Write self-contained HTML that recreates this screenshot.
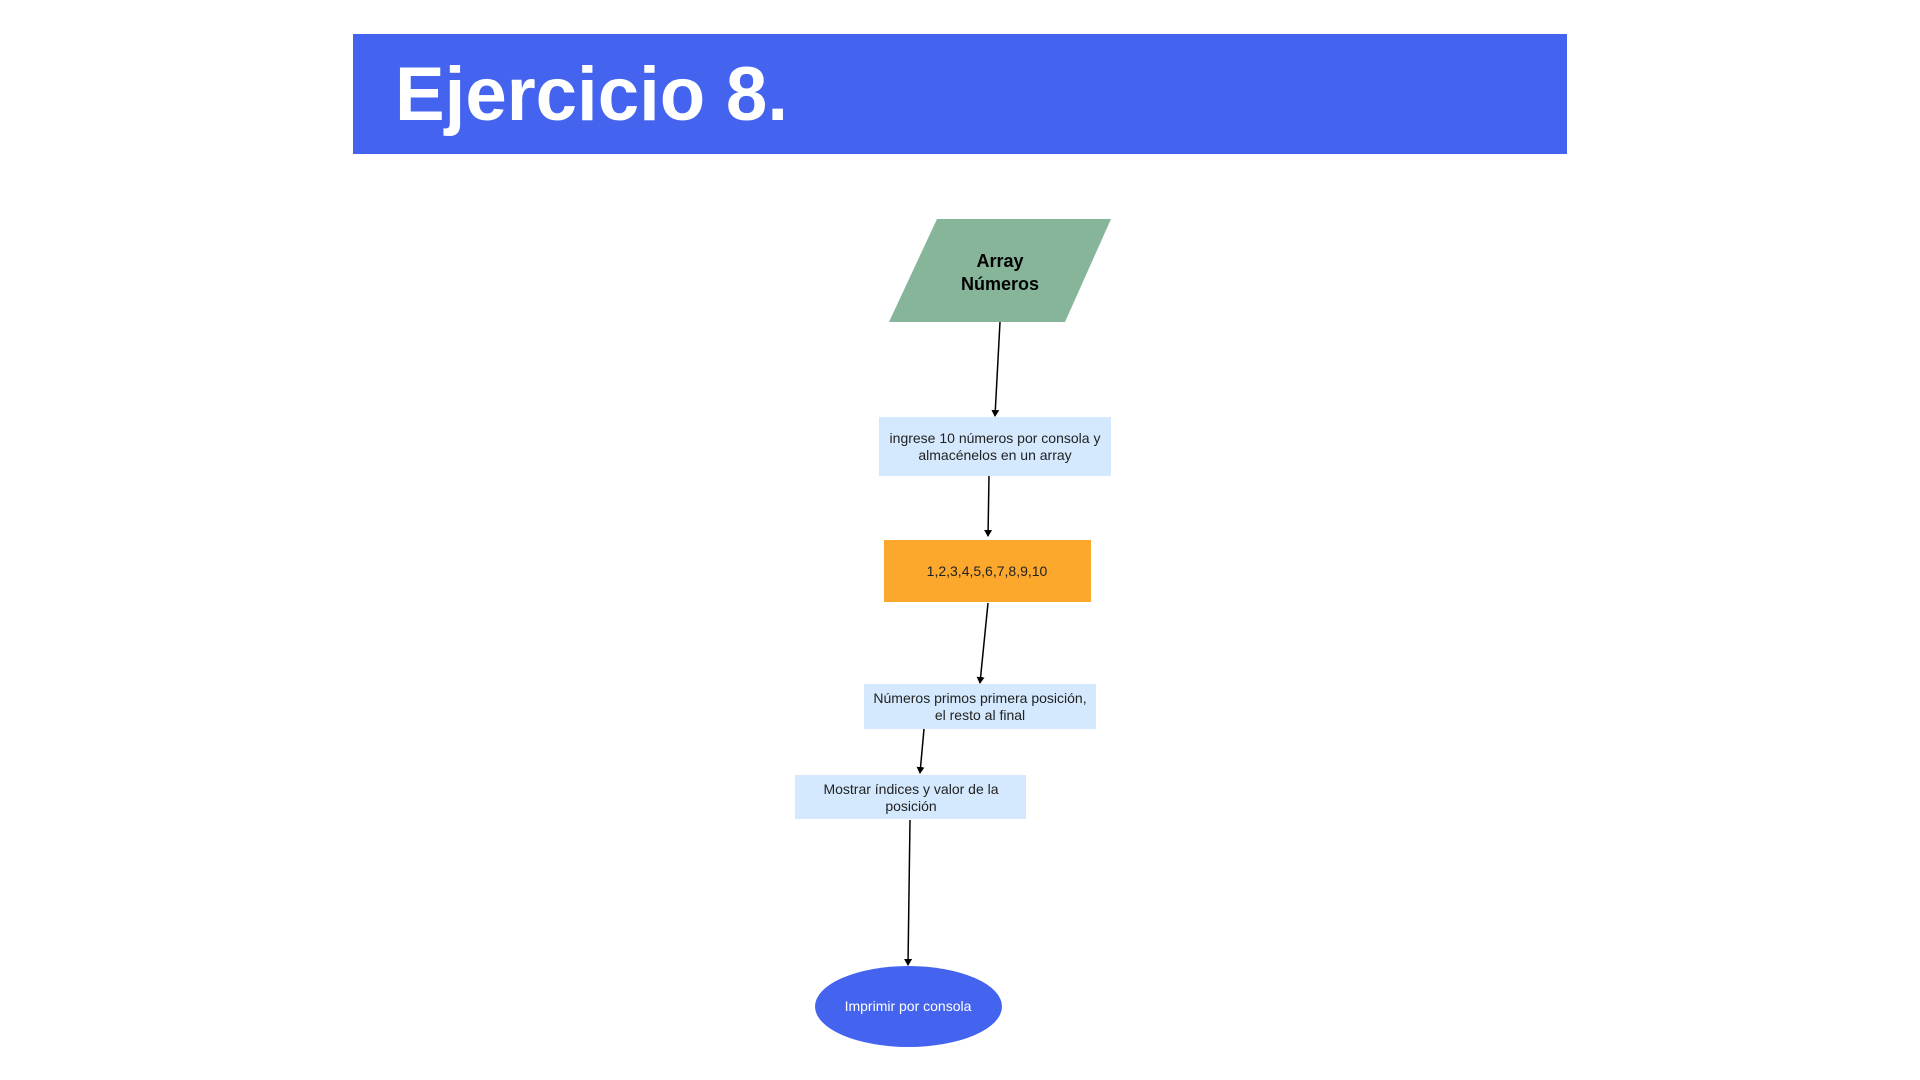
<!DOCTYPE html>
<html><head><meta charset="utf-8"><style>html,body{margin:0;padding:0;background:#fff;width:1920px;height:1080px;overflow:hidden}</style></head>
<body>
<svg width="1920" height="1080" xmlns="http://www.w3.org/2000/svg" font-family="Liberation Sans, sans-serif">
<defs><marker id="a" markerWidth="8" markerHeight="8" refX="6" refY="4" orient="auto" markerUnits="userSpaceOnUse"><path d="M0,0 L7,4 L0,8 z" fill="#000"/></marker></defs>
<rect x="353" y="34" width="1214" height="120" fill="#4464F0"/>
<text x="395" y="120" font-size="76" font-weight="bold" fill="#fff" textLength="393" lengthAdjust="spacingAndGlyphs">Ejercicio 8.</text>
<polygon points="937,219 1111,219 1065,322 889,322" fill="#86B59A"/>
<text x="1000" y="267" font-size="18" font-weight="bold" text-anchor="middle">Array</text>
<text x="1000" y="290" font-size="18" font-weight="bold" text-anchor="middle">Números</text>
<line x1="1000" y1="322" x2="995" y2="416" stroke="#000" stroke-width="1.5" marker-end="url(#a)"/>
<rect x="879" y="417" width="232" height="59" fill="#D4E9FD"/>
<text x="995" y="443" font-size="14" text-anchor="middle" fill="#222">ingrese 10 números por consola y</text>
<text x="995" y="460" font-size="14" text-anchor="middle" fill="#222">almacénelos en un array</text>
<line x1="989" y1="476" x2="988" y2="536" stroke="#000" stroke-width="1.5" marker-end="url(#a)"/>
<rect x="884" y="540" width="207" height="62" fill="#FCA82C"/>
<text x="987" y="576" font-size="14" text-anchor="middle" fill="#222">1,2,3,4,5,6,7,8,9,10</text>
<line x1="988" y1="603" x2="980" y2="683" stroke="#000" stroke-width="1.5" marker-end="url(#a)"/>
<rect x="864" y="684" width="232" height="45" fill="#D4E9FD"/>
<text x="980" y="703" font-size="14" text-anchor="middle" fill="#222">Números primos primera posición,</text>
<text x="980" y="720" font-size="14" text-anchor="middle" fill="#222">el resto al final</text>
<line x1="924" y1="729" x2="920" y2="773" stroke="#000" stroke-width="1.5" marker-end="url(#a)"/>
<rect x="795" y="775" width="231" height="44" fill="#D4E9FD"/>
<text x="911" y="794" font-size="14" text-anchor="middle" fill="#222">Mostrar índices y valor de la</text>
<text x="911" y="811" font-size="14" text-anchor="middle" fill="#222">posición</text>
<line x1="910" y1="820" x2="908" y2="965" stroke="#000" stroke-width="1.5" marker-end="url(#a)"/>
<ellipse cx="908.5" cy="1006.5" rx="93.5" ry="40.5" fill="#4464F0"/>
<text x="908" y="1011" font-size="14" text-anchor="middle" fill="#fff">Imprimir por consola</text>
</svg>
</body></html>
